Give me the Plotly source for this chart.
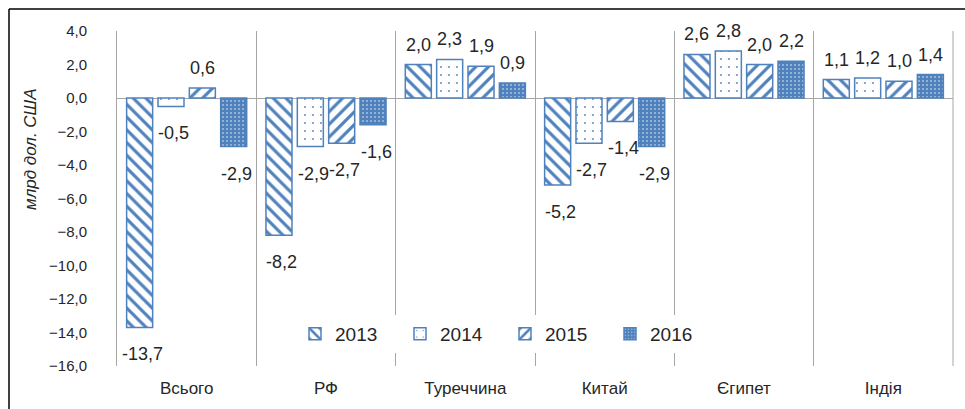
import plotly.graph_objects as go

categories = ["Всього", "РФ", "Туреччина", "Китай", "Єгипет", "Індія"]
years = ["2013", "2014", "2015", "2016"]
v2013 = [-13.7, -8.2, 2.0, -5.2, 2.6, 1.1]
v2014 = [-0.5, -2.9, 2.3, -2.7, 2.8, 1.2]
v2015 = [0.6, -2.7, 1.9, -1.4, 2.0, 1.0]
v2016 = [-2.9, -1.6, 0.9, -2.9, 2.2, 1.4]
series = [v2013, v2014, v2015, v2016]

BLUE = "#4F81BD"
GRID = "#A6A6A6"
W, H = 965, 409
ML, MR, MT, MB = 117, 12, 31, 43
PW, PH = W - ML - MR, H - MT - MB

patterns = [
    dict(shape="\\", fgcolor=BLUE, bgcolor="white", size=9, solidity=0.35, fillmode="replace"),
    dict(shape=".", fgcolor=BLUE, bgcolor="white", size=8, solidity=0.04, fillmode="replace"),
    dict(shape="/", fgcolor=BLUE, bgcolor="white", size=9, solidity=0.35, fillmode="replace"),
    dict(shape=".", fgcolor="white", bgcolor=BLUE, size=4, solidity=0.1, fillmode="replace"),
]

fig = go.Figure()
for name, vals, pat in zip(years, series, patterns):
    fig.add_trace(go.Bar(
        x=categories, y=vals, name=name,
        marker=dict(color="white", line=dict(color=BLUE, width=1.5), pattern=pat),
        hoverinfo="skip",
    ))

# data labels
bargap = 0.1
slot = PW / len(categories) * (1 - bargap) / len(years)
annotations = []
for i, vals in enumerate(series):
    xs = (i - (len(years) - 1) / 2) * slot
    for c, v in zip(categories, vals):
        txt = f"{v:.1f}".replace(".", ",")
        annotations.append(dict(
            x=c, y=v, xref="x", yref="y", text=txt, showarrow=False,
            xshift=xs + (0 if v >= 0 else 3), yshift=(20 if v >= 0 else -27),
            font=dict(family="Liberation Sans, Arial", size=18, color="#262626"),
        ))

annotations.append(dict(
    text="<i>млрд дол. США</i>", textangle=-90, showarrow=False,
    xref="paper", yref="paper",
    x=(30 - ML) / PW, y=(MT + PH - 149) / PH, xanchor="center", yanchor="middle",
    font=dict(family="Liberation Sans, Arial", size=17, color="#262626"),
))

def px_x(p):
    return (p - ML) / PW

def px_y(p):
    return (MT + PH - p) / PH

shapes = [
    dict(type="line", xref="paper", yref="paper", x0=px_x(9), x1=px_x(966), y0=px_y(9), y1=px_y(9),
         line=dict(color="black", width=1.5)),
    dict(type="line", xref="paper", yref="paper", x0=px_x(9), x1=px_x(9), y0=px_y(9), y1=px_y(410),
         line=dict(color="black", width=1.5)),
    dict(type="line", xref="paper", yref="paper", x0=1, x1=1, y0=0, y1=1,
         line=dict(color=GRID, width=1), layer="below"),
]

fig.update_layout(
    width=W, height=H,
    margin=dict(l=ML, r=MR, t=MT, b=MB),
    paper_bgcolor="white", plot_bgcolor="white",
    barmode="group", bargap=bargap, bargroupgap=0.17,
    separators=", ",
    font=dict(family="Liberation Sans, Arial", color="#404040"),
    legend=dict(
        orientation="h", x=px_x(295), y=px_y(334), xanchor="left", yanchor="middle",
        bgcolor="white", font=dict(size=19, color="#262626"),
        entrywidth=60, entrywidthmode="pixels", itemwidth=30,
    ),
    annotations=annotations,
    shapes=shapes,
    showlegend=True,
)
fig.update_xaxes(
    type="category", showgrid=True, gridcolor=GRID, gridwidth=1,
    tickson="boundaries", ticks="", showline=False,
    tickfont=dict(size=17, color="#262626"), ticklabelstandoff=10,
)
fig.update_yaxes(
    range=[-16, 4], dtick=2, tickformat=".1f", showgrid=False,
    showline=True, linecolor=GRID, linewidth=1,
    zeroline=True, zerolinecolor=GRID, zerolinewidth=1,
    ticks="", tickfont=dict(size=15, color="#262626"), ticklabelstandoff=26,
)

fig.write_html(
    "out.html",
    config={"displayModeBar": False},
    post_script="document.body.style.margin='0';document.body.style.overflow='hidden';",
)
